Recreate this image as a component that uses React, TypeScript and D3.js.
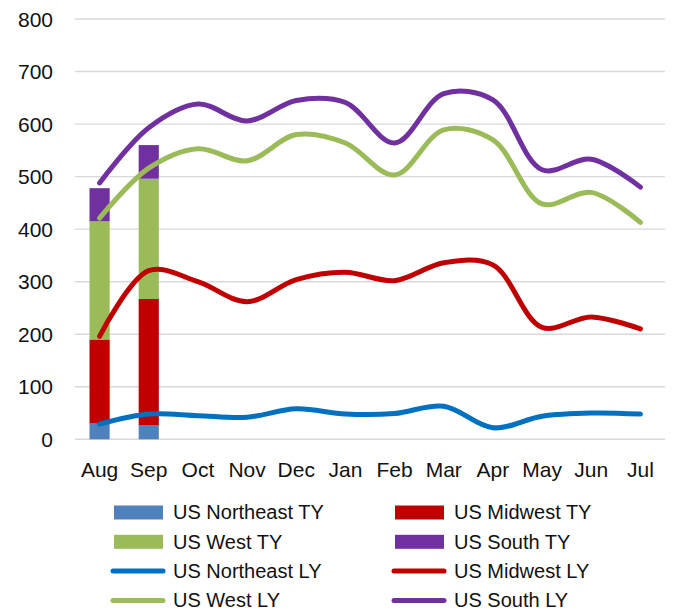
import React from "react";
import * as d3 from "d3";

// months on the x axis
const months = ["Aug", "Sep", "Oct", "Nov", "Dec", "Jan", "Feb", "Mar", "Apr", "May", "Jun", "Jul"];
const regions = ["Northeast", "Midwest", "West", "South"];

// this year (stacked columns), only Aug and Sep reported
const tyMonths = ["Aug", "Sep"];
const northeastTY = [30, 27];
const midwestTY = [160, 240];
const westTY = [225, 229];
const southTY = [63, 64];

// last year (stacked lines)
const northeastLY = [29, 48, 45, 42, 58, 48, 49, 63, 22, 44, 50, 48];
const midwestLY = [167, 273, 255, 220, 246, 270, 253, 273, 310, 169, 183, 162];
const westLY = [225, 195, 253, 268, 276, 246, 201, 253, 238, 235, 237, 203];
const southLY = [67, 77, 85, 76, 65, 77, 61, 69, 76, 65, 63, 67];

const yTicks = [0, 100, 200, 300, 400, 500, 600, 700, 800];

const barColors = ["#4F81BD", "#C00000", "#9BBB59", "#7030A0"];
const lineColors = ["#0070C0", "#C00000", "#9BBB59", "#7030A0"];

const W = 675;
const H = 611;
const margin = { top: 19, right: 10, bottom: 172, left: 75 };
const font = "'Liberation Sans', Arial, sans-serif";

const App = () => {
  const x = d3
    .scaleBand()
    .domain(months)
    .range([margin.left, W - margin.right]);
  const y = d3
    .scaleLinear()
    .domain([0, 800])
    .range([H - margin.bottom + 0.3, margin.top]);

  const cx = (m: string) => (x(m) as number) + x.bandwidth() / 2;
  const barW = x.bandwidth() * 0.41;

  // ----- stack the TY columns
  const tyRows = tyMonths.map((m, i) => ({
    month: m,
    Northeast: northeastTY[i],
    Midwest: midwestTY[i],
    West: westTY[i],
    South: southTY[i]
  }));
  const tyStack = d3.stack<any>().keys(regions)(tyRows);

  // ----- stack the LY lines
  const lyRows = months.map((m, i) => ({
    month: m,
    Northeast: northeastLY[i],
    Midwest: midwestLY[i],
    West: westLY[i],
    South: southLY[i]
  }));
  const lyStack = d3.stack<any>().keys(regions)(lyRows);

  const line = d3
    .line<any>()
    .x(d => cx(d.data.month))
    .y(d => y(d[1]))
    .curve(d3.curveCatmullRom.alpha(0.5));

  const legendItems = [
    { label: "US Northeast TY", color: barColors[0], kind: "bar" },
    { label: "US Midwest TY", color: barColors[1], kind: "bar" },
    { label: "US West TY", color: barColors[2], kind: "bar" },
    { label: "US South TY", color: barColors[3], kind: "bar" },
    { label: "US Northeast LY", color: lineColors[0], kind: "line" },
    { label: "US Midwest LY", color: lineColors[1], kind: "line" },
    { label: "US West LY", color: lineColors[2], kind: "line" },
    { label: "US South LY", color: lineColors[3], kind: "line" }
  ];

  return (
    <svg
      width={W}
      height={H}
      style={{ position: "absolute", left: 0, top: 0, background: "#fff" }}
      fontFamily={font}
    >
      {/* grid + y labels */}
      <g>
        {yTicks.map(t => (
          <g key={t}>
            <line
              x1={margin.left}
              x2={W - margin.right}
              y1={y(t)}
              y2={y(t)}
              stroke="#d9d9d9"
              strokeWidth={1.4}
            />
            <text x={53} y={y(t)} dy="0.36em" textAnchor="end" fontSize={21} fill="#111">
              {t}
            </text>
          </g>
        ))}
      </g>

      {/* x labels */}
      <g>
        {months.map(m => (
          <text key={m} x={cx(m)} y={477} textAnchor="middle" fontSize={21} fill="#111">
            {m}
          </text>
        ))}
      </g>

      {/* TY columns */}
      <g>
        {tyStack.map((layer, li) =>
          layer.map(d => (
            <rect
              key={layer.key + d.data.month}
              x={cx(d.data.month) - barW / 2}
              y={y(d[1])}
              width={barW}
              height={y(d[0]) - y(d[1])}
              fill={barColors[li]}
            />
          ))
        )}
      </g>

      {/* LY lines */}
      <g>
        {lyStack.map((layer, li) => (
          <path
            key={layer.key}
            d={line(layer) as string}
            fill="none"
            stroke={lineColors[li]}
            strokeWidth={5}
            strokeLinecap="round"
            strokeLinejoin="round"
          />
        ))}
      </g>

      {/* legend */}
      <g>
        {legendItems.map((it, i) => {
          const col = i % 2;
          const row = Math.floor(i / 2);
          const sx = col === 0 ? 114 : 395;
          const cy = 512.5 + row * 29.3;
          return (
            <g key={it.label}>
              {it.kind === "bar" ? (
                <rect x={sx} y={cy - 7} width={49} height={14} fill={it.color} />
              ) : (
                <line
                  x1={sx - 1}
                  x2={sx + 49}
                  y1={cy}
                  y2={cy}
                  stroke={it.color}
                  strokeWidth={5}
                  strokeLinecap="round"
                />
              )}
              <text x={sx + 59} y={cy} dy="0.34em" fontSize={20} fill="#111">
                {it.label}
              </text>
            </g>
          );
        })}
      </g>
    </svg>
  );
};

export default App;
